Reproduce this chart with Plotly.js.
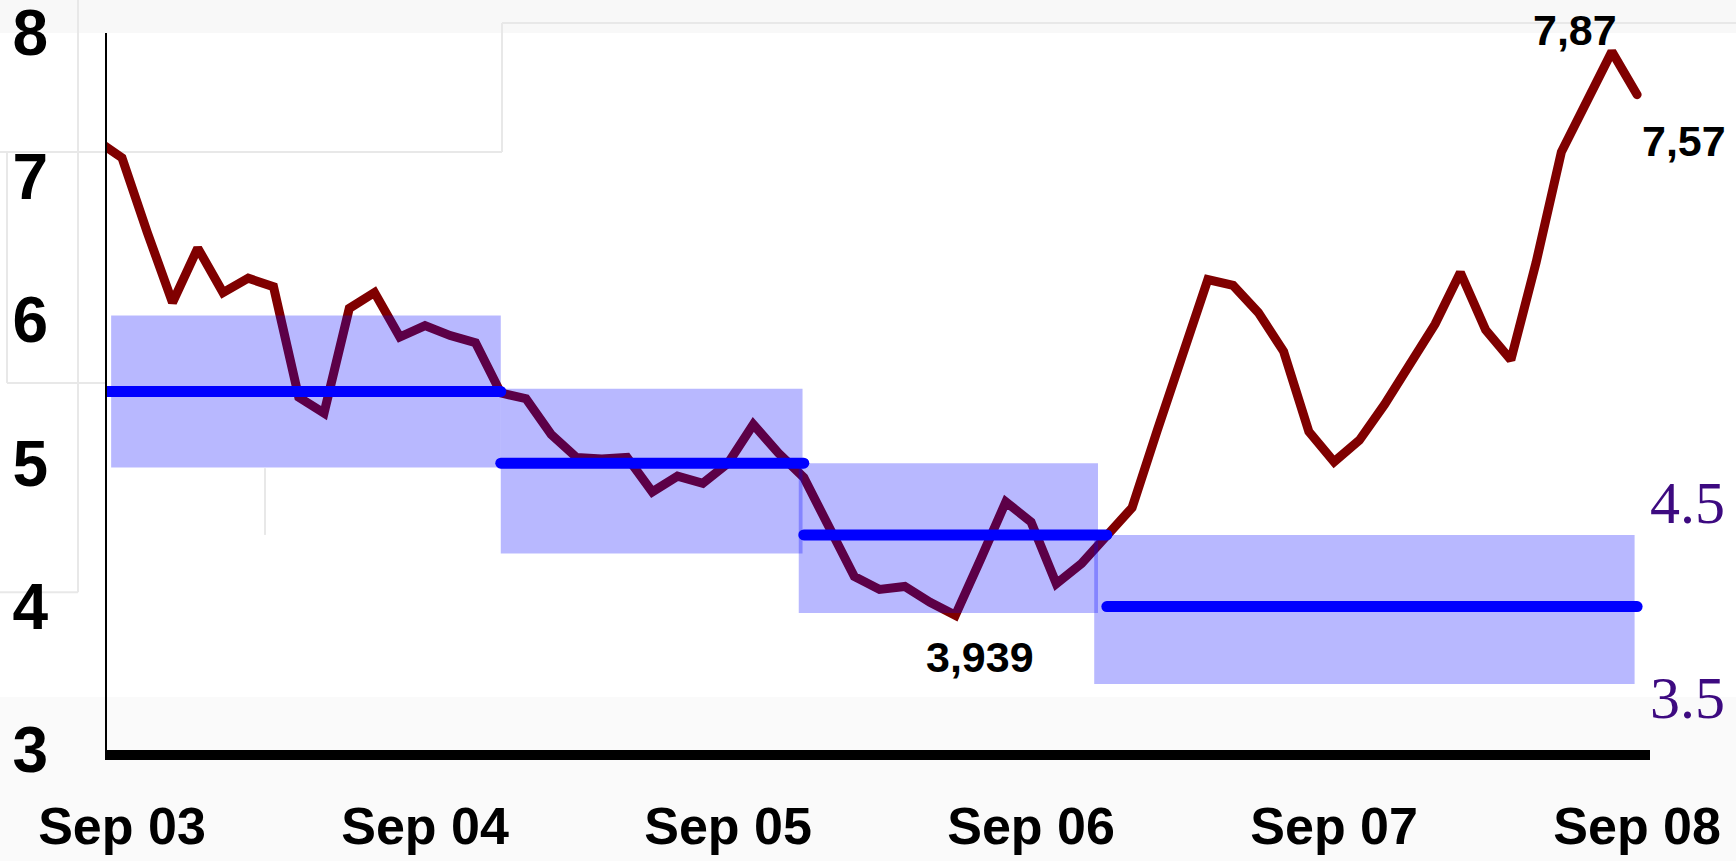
<!DOCTYPE html>
<html><head><meta charset="utf-8">
<script src="https://cdn.plot.ly/plotly-3.0.1.min.js"></script>
<style>
html,body{margin:0;padding:0;background:#fff;}
#chart{width:1736px;height:861px;}
path.js-line{stroke-linecap:round;}
</style></head><body><div id="chart"></div>
<script>
// Monthly rate, Aug 03 .. Sep 08
const rates = [7.25, 7.13, 6.61, 6.12, 6.50, 6.19, 6.29, 6.23, 5.46, 5.35,
  6.08, 6.19, 5.88, 5.96, 5.89, 5.84, 5.49, 5.45, 5.20, 5.04,
  5.03, 5.04, 4.80, 4.91, 4.86, 5.00, 5.27, 5.07, 4.90, 4.56,
  4.21, 4.12, 4.14, 4.03, 3.939, 4.33, 4.73, 4.59, 4.16, 4.30,
  4.50, 4.69, 5.23, 5.77, 6.28, 6.24, 6.05, 5.78, 5.22, 5.01,
  5.16, 5.41, 5.68, 5.97, 6.33, 5.93, 5.72, 6.40, 7.17, 7.52,
  7.87, 7.57];
const tickIdx = [1, 13, 25, 37, 49, 61];
const tickLabels = ['Sep 03', 'Sep 04', 'Sep 05', 'Sep 06', 'Sep 07', 'Sep 08'];
const yTicks = [3, 4, 5, 6, 7, 8];
// inflation targets per period
const targetStart = [0, 16, 28, 40];
const targetEnd = [16, 28, 40, 61];
const targetValue = [5.5, 5.0, 4.5, 4.0];
// tolerance bands
const bandStart = [0.57, 16, 27.8, 39.5];
const bandEnd = [16, 27.95, 39.65, 60.9];
const bandLow = [4.97, 4.37, 3.955, 3.46];
const bandHigh = [6.03, 5.52, 5.0, 4.5];
// point labels
const labelIdx = [34, 60, 61];
const labelText = ['3,939', '7,87', '7,57'];
// band edge labels
const edgeValue = [4.5, 3.5];
const edgeText = ['4.5', '3.5'];

const monthIdx = rates.map((_, i) => i);
const traces = [];
traces.push({x: monthIdx, y: rates, type: 'scatter', mode: 'lines',
  line: {color: '#800000', width: 9}, hoverinfo: 'skip'});
for (let k = 0; k < bandStart.length; k++) {
  traces.push({x: [bandStart[k], bandEnd[k], bandEnd[k], bandStart[k], bandStart[k]],
    y: [bandLow[k], bandLow[k], bandHigh[k], bandHigh[k], bandLow[k]],
    type: 'scatter', mode: 'none', fill: 'toself',
    fillcolor: 'rgba(0,0,255,0.28)', hoverinfo: 'skip'});
}
for (let k = 0; k < targetStart.length; k++) {
  traces.push({x: [targetStart[k], targetEnd[k]], y: [targetValue[k], targetValue[k]],
    type: 'scatter', mode: 'lines', line: {color: '#0000ff', width: 11}, hoverinfo: 'skip'});
}

const shifts = [[25, -42], [-37, 22], [47, -46]];
const annotations = labelIdx.map((i, k) => ({
  x: i, y: rates[i], xref: 'x', yref: 'y', text: labelText[k], showarrow: false,
  xshift: shifts[k][0], yshift: shifts[k][1],
  font: {family: 'Liberation Sans, Arial, sans-serif', size: 43, color: '#000', weight: 'bold'}
}));
const edgeShift = [32, -20];
edgeValue.forEach((v, k) => annotations.push({
  x: 1.0246, y: v, xref: 'paper', yref: 'y', xanchor: 'center', text: edgeText[k], showarrow: false,
  yshift: edgeShift[k],
  font: {family: 'Liberation Serif, Times New Roman, serif', size: 60, color: '#3d0a80'}
}));

const faint = '#e8e8e8';
const shapes = [
  {type: 'rect', xref: 'paper', yref: 'paper', x0: -0.08, x1: 1.06, y0: 1.0, y1: 1.06, fillcolor: '#f8f8f8', line: {width: 0}, layer: 'below'},
  {type: 'rect', xref: 'paper', yref: 'paper', x0: -0.08, x1: 1.06, y0: -0.16, y1: 0.0739, fillcolor: '#fafafa', line: {width: 0}, layer: 'below'},
  {type: 'line', xref: 'paper', yref: 'paper', x0: 0.256, x1: 1.06, y0: 1.014, y1: 1.014, line: {color: faint, width: 2}, layer: 'below'},
  {type: 'line', xref: 'paper', yref: 'paper', x0: 0.256, x1: 0.256, y0: 1.014, y1: 0.834, line: {color: faint, width: 2}, layer: 'below'},
  {type: 'line', xref: 'paper', yref: 'paper', x0: -0.08, x1: 0.256, y0: 0.834, y1: 0.834, line: {color: faint, width: 2}, layer: 'below'},
  {type: 'line', xref: 'paper', yref: 'paper', x0: -0.0188, x1: -0.0188, y0: 1.06, y1: 0.220, line: {color: faint, width: 2}, layer: 'below'},
  {type: 'line', xref: 'paper', yref: 'paper', x0: -0.08, x1: -0.0188, y0: 0.220, y1: 0.220, line: {color: faint, width: 2}, layer: 'below'},
  {type: 'line', xref: 'paper', yref: 'paper', x0: -0.0648, x1: -0.0648, y0: 0.834, y1: 0.512, line: {color: faint, width: 2}, layer: 'below'},
  {type: 'line', xref: 'paper', yref: 'paper', x0: -0.0648, x1: 0.0, y0: 0.512, y1: 0.512, line: {color: faint, width: 2}, layer: 'below'},
  {type: 'line', xref: 'paper', yref: 'paper', x0: 0.1024, x1: 0.1024, y0: 0.393, y1: 0.300, line: {color: faint, width: 2}, layer: 'below'}
];

const layout = {
  width: 1736, height: 861,
  margin: {l: 107, r: 86, t: 33, b: 111},
  paper_bgcolor: '#ffffff', plot_bgcolor: 'rgba(0,0,0,0)',
  showlegend: false,
  xaxis: {range: [0.406, 61.51], showgrid: false, zeroline: false,
    showline: true, linecolor: '#000', linewidth: 10,
    tickmode: 'array', tickvals: tickIdx, ticktext: tickLabels, ticks: '',
    ticklabelstandoff: 22, ticklabeloverflow: 'allow',
    tickfont: {family: 'Liberation Sans, Arial, sans-serif', size: 52, color: '#000', weight: 'bold'}},
  yaxis: {range: [3, 8], showgrid: false, zeroline: false,
    showline: true, linecolor: '#000', linewidth: 2,
    tickmode: 'array', tickvals: yTicks, ticktext: yTicks.map(String), ticks: '',
    ticklabelstandoff: 44, ticklabeloverflow: 'allow',
    tickfont: {family: 'Liberation Sans, Arial, sans-serif', size: 64, color: '#000', weight: 'bold'}},
  shapes: shapes,
  annotations: annotations
};
Plotly.newPlot('chart', traces, layout, {displayModeBar: false, staticPlot: true});
</script></body></html>
